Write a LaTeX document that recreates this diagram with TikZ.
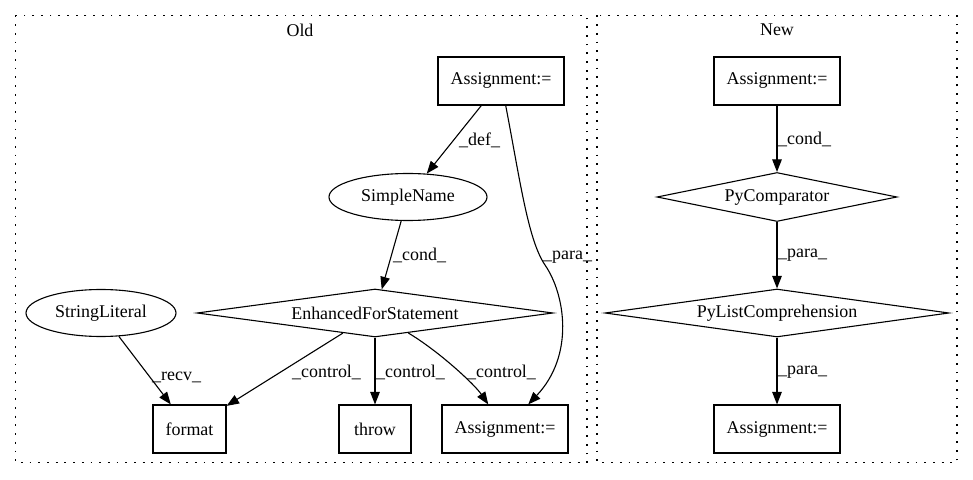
\documentclass[tikz,border=0pt]{standalone}
\usepackage{fontspec}
\setmainfont{Liberation Serif}
\usetikzlibrary{shapes.geometric, arrows.meta}
\begin{document}
\begin{tikzpicture}[x=1bp, y=-1bp,
  every node/.style={font=\fontsize{18}{21}\selectfont, inner sep=0pt},
  box/.style={draw, rectangle, minimum height=48bp, line width=1.1bp},
  oval/.style={draw, ellipse, minimum height=47bp, line width=1.1bp},
  dia/.style={draw, diamond, aspect=7, minimum height=48bp, line width=1.1bp},
  edge/.style={line width=1.1bp, -{Triangle[length=12.5bp, width=9.5bp]}},
  lbl/.style={anchor=west},
  cluster/.style={line width=1.1bp, dash pattern=on 1.8bp off 6.9bp}]
\useasboundingbox[fill=white] (0,0) rectangle (973,480);

% clusters
\draw[cluster] (15.5,15.5) rectangle (587,462.5);
\draw[cluster] (597,15.5) rectangle (957,462.5);
\node (told) at (300,30) {Old};
\node (tnew) at (777,30) {New};

% Old nodes
\node[box, minimum width=126bp] (oa1) at (501,81) {Assignment:=};
\node[oval, minimum width=158bp] (sn) at (408,197) {SimpleName};
\node[dia, minimum width=356bp] (efs) at (375,313) {EnhancedForStatement};
\node[oval, minimum width=150bp] (sl) at (101,313) {StringLiteral};
\node[box, minimum width=73bp] (fmt) at (189.5,429) {format};
\node[box, minimum width=72bp] (thr) at (375,429) {throw};
\node[box, minimum width=126bp] (oa2) at (505,429) {Assignment:=};

% New nodes
\node[box, minimum width=126bp] (na1) at (777,81) {Assignment:=};
\node[dia, minimum width=240bp, minimum height=49bp] (pc) at (777,197) {PyComparator};
\node[dia, minimum width=344bp] (plc) at (777,313) {PyListComprehension};
\node[box, minimum width=126bp] (na2) at (777,429) {Assignment:=};

% Old edges
\draw[edge] (oa1) -- (sn);
\draw[edge] (sn) -- (efs);
\draw[edge] (efs) -- (fmt);
\draw[edge] (efs) -- (thr);
\draw[edge] (efs) .. controls (440,352) and (475,385) .. (oa2);
\draw[edge] (oa1) .. controls (520,180) and (528,240) .. (545,265)
                  .. controls (565,294) and (575,355) .. (oa2);
\draw[edge] (sl) -- (fmt);

% New edges
\draw[edge] (na1) -- (pc);
\draw[edge] (pc) -- (plc);
\draw[edge] (plc) -- (na2);

% labels
\node[lbl] (ldef) at (459,140) {\_def\_};
\node[lbl] (lcond) at (393,255) {\_cond\_};
\node[lbl] (lpara) at (543,257) {\_para\_};
\node[lbl] (lrecv) at (152,377) {\_recv\_};
\node[lbl] (lc1) at (292,372) {\_control\_};
\node[lbl] (lc2) at (376,372) {\_control\_};
\node[lbl] (lc3) at (467,372) {\_control\_};
\node[lbl] (ncond) at (778,139) {\_cond\_};
\node[lbl] (npara1) at (778,255) {\_para\_};
\node[lbl] (npara2) at (778,372) {\_para\_};
\end{tikzpicture}
\end{document}
